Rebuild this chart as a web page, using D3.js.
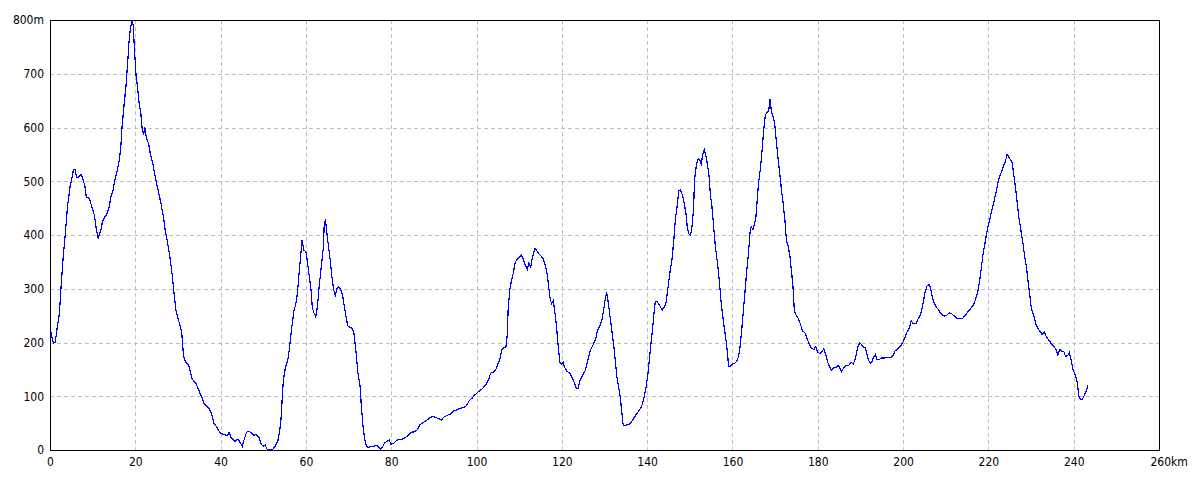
<!DOCTYPE html>
<html>
<head>
<meta charset="utf-8">
<script src="https://cdn.jsdelivr.net/npm/d3@7/dist/d3.min.js"></script>
<style>
  html, body { margin: 0; padding: 0; background: #fff; }
  svg { display: block; }
  .tick text { font-family: "Liberation Sans Narrow", "DejaVu Sans Condensed", "Liberation Sans", sans-serif; font-size: 12px; fill: #000; }
</style>
</head>
<body>
<svg id="chart" width="1200" height="480"></svg>
<script>
// Elevation profile: [distance km, elevation m]
const profile = [
  [0,226],[0.2,220],[0.8,198],[1.25,201],[1.6,223],[2.2,254],[2.6,304],[3.1,360],[3.6,403],[4.1,453],[4.7,490],[5.2,508],[5.5,522],[5.9,521],[6.25,507],[6.8,508],[7.3,513],[7.8,502],[8.2,490],[8.5,471],[9.2,468],[9.8,453],[10.4,437],[10.9,409],[11.3,394],[12,412],[12.3,425],[12.9,434],[13.4,440],[13.8,450],[14.3,471],[14.8,484],[15.2,502],[15.8,521],[16.25,540],[16.6,564],[16.9,602],[17.4,645],[17.8,676],[18.2,719],[18.5,757],[18.8,781],[19.2,799],[19.5,791],[19.8,744],[20.2,695],[20.5,676],[20.9,645],[21.3,626],[21.6,598],[21.95,586],[22.2,601],[22.6,580],[23.1,571],[23.5,552],[24.1,533],[24.5,515],[25,496],[25.5,478],[26,459],[26.6,434],[27,409],[27.6,384],[28.1,360],[28.6,329],[29.1,291],[29.5,260],[30.1,242],[30.6,229],[30.9,217],[31.3,174],[31.8,164],[32.5,158],[32.8,149],[33.3,133],[33.75,127],[34.2,124],[34.7,115],[35.2,105],[35.6,99],[36.1,87],[36.7,81],[37.2,78],[37.7,71],[38.1,62],[38.4,50],[39.1,43],[39.5,37],[40,31],[40.6,29],[41.1,28],[41.6,27],[42,33],[42.5,22],[43,19],[43.4,16],[43.9,20],[44.4,17],[44.7,12],[45.1,7],[45.5,19],[46.1,33],[46.5,35],[47,33],[47.4,31],[47.8,27],[48.2,29],[48.7,26],[49.1,22],[49.5,11],[50,7],[50.5,9],[50.8,2],[51.4,0],[52,0],[52.3,2],[52.8,7],[53.4,16],[53.75,31],
  [54.1,50],[54.7,130],[55.1,149],[55.9,174],[56.25,198],[56.7,229],[57.2,260],[57.6,270],[58,291],[58.4,329],[58.75,360],[59.1,391],[59.5,372],[60,369],[60.4,347],[60.8,322],[61.2,298],[61.5,264],[61.9,255],[62.3,248],[62.7,267],[63.1,304],[63.6,341],[64.1,378],[64.3,422],[64.6,427],[65,397],[65.6,360],[66.1,322],[66.5,298],[66.9,288],[67.3,301],[67.7,304],[68.2,298],[68.6,288],[69,267],[69.4,248],[69.8,231],[70.4,228],[70.9,226],[71.25,217],[71.7,186],[72.2,143],[72.7,118],[73,81],[73.4,43],[73.8,19],[74.2,6],[74.7,5],[75.4,7],[75.9,7],[76.4,9],[77,6],[77.5,2],[78,6],[78.5,14],[79.1,16],[79.5,19],[79.9,11],[80.5,12],[81,16],[81.5,19],[82.4,19],[83,22],[83.6,25],[84.2,29],[84.8,33],[85.5,34],[86.2,38],[86.7,47],[87.3,50],[87.9,53],[88.4,56],[88.9,59],[89.5,62],[90,62],[90.6,60],[91.2,58],[91.8,56],[92.3,61],[93,64],[93.6,66],[94.1,68],[94.7,73],[95.3,74],[95.9,77],[96.5,78],[97.1,79],[97.7,83],[98.3,92],[98.9,96],[99.5,102],[100,105],[100.5,109],[101.2,113],[101.7,117],[102.3,123],[102.9,133],[103.3,143],[103.9,145],[104.5,149],[104.9,158],[105.5,169],[105.9,187],[106.4,190],[106.9,192],[107.2,214],[107.4,260],[107.8,298],[108.2,316],[108.6,329],[109.1,350],[109.5,355],[110,358],[110.5,362],[110.9,356],[111.4,344],[111.9,336],[112.3,348],[112.7,340],[113.1,358],[113.7,375],[114.1,371],[114.6,365],[115.1,361],[115.6,356],[116.1,344],[116.4,335],[116.7,319],[117,298],[117.3,279],[117.6,272],[118,278],[118.4,254],[118.75,229],[119.1,198],[119.5,164],[119.9,160],
  [120.3,164],[120.6,155],[121.2,146],[121.8,144],[122.4,135],[123,124],[123.35,115],[123.8,115],[124.3,130],[124.9,140],[125.5,148],[126.1,167],[126.7,186],[127.3,195],[127.9,206],[128.4,223],[129,233],[129.4,242],[129.8,260],[130.2,282],[130.5,293],[130.8,279],[131.3,248],[131.8,217],[132.2,192],[132.6,161],[132.9,136],[133.3,118],[133.7,99],[134,74],[134.35,48],[134.7,45],[135.3,47],[135.8,48],[136.4,53],[136.85,59],[137.4,66],[137.9,71],[138.5,78],[138.95,87],[139.3,99],[139.7,115],[140.1,136],[140.5,167],[140.9,198],[141.3,229],[141.6,254],[141.9,276],
  [142.3,276],[143,268],[143.5,260],[144,266],[144.4,273],[144.8,297],[145.3,328],[145.8,353],[146.25,390],[146.6,428],[147,452],[147.4,482],[147.8,484],[148.3,474],[148.7,458],[149.1,440],[149.4,415],[149.8,402],[150.2,400],[150.6,421],[150.9,452],[151.1,502],[151.6,533],[151.95,542],[152.3,540],[152.7,532],[153,550],[153.4,559],[153.75,548],[154.1,533],[154.5,511],[154.8,477],[155.2,452],[155.6,415],[156,378],[156.5,347],[156.9,316],[157.3,279],[157.65,254],[158,232],[158.4,210],[158.75,186],[159.1,156],[159.5,156],[160,160],[160.5,161],[160.9,164],[161.4,173],[161.7,186],[162.1,217],[162.5,254],[162.9,291],[163.3,329],[163.75,366],[164.1,403],[164.4,416],[164.8,410],[165.2,421],[165.5,434],[165.8,465],[166.1,495],[166.6,527],[166.95,558],[167.35,598],[167.7,623],[168.1,628],[168.5,632],[168.8,652],[169.1,632],[169.5,620],[169.9,607],[170.3,573],[170.7,542],[171.1,514],[171.5,483],[171.9,458],[172.3,427],[172.65,390],[173.1,378],[173.5,359],[173.9,328],[174.2,303],[174.5,260],[174.8,252],[175.4,245],[175.9,235],[176.4,222],[177,218],[177.3,211],[177.8,201],[178.3,192],[178.7,189],[179.1,187],[179.5,192],[180,182],[180.5,179],[180.9,182],[181.4,188],[181.9,176],[182.3,164],[182.8,154],[183.2,149],[183.75,153],[184.4,154],[184.8,157],[185.2,152],[185.6,146],[186,152],[186.4,156],[186.9,157],[187.3,158],[187.8,163],[188.3,160],[188.7,167],[189.1,181],[189.5,194],[189.8,199],[190.2,197],[190.6,192],[191.1,190],[191.5,180],[191.9,167],[192.3,161],[192.7,164],[193.1,173],[193.5,178],[193.9,168],[194.4,168],
  [194.9,171],[195.5,171],[196.1,172],[197.1,172],[197.7,176],[198.1,184],[198.8,189],[199.45,194],[200,201],[200.5,210],[200.9,219],[201.4,226],[201.9,240],[202.3,236],[203,235],[203.4,242],[203.9,249],[204.4,261],[204.8,277],[205.1,292],[205.6,305],[206.1,308],[206.4,302],[206.8,286],[207.25,275],[207.8,266],[208.3,261],[208.7,255],[209.2,251],[209.75,249],[210.3,251],[210.8,255],[211.3,254],[211.9,250],[212.3,247],[212.8,244],[213.4,244],[214,245],[214.5,250],[215,255],[215.4,259],[215.9,264],[216.4,269],[216.85,277],[217.2,286],[217.6,298],[218,317],[218.4,342],[218.8,367],[219.2,385],[219.6,404],[220,419],[220.4,432],[220.75,444],[221.1,456],[221.5,469],[221.9,484],[222.4,503],[222.8,512],[223.2,520],[223.55,529],[223.9,535],[224.2,543],[224.4,550],[224.8,545],[225.2,540],[225.6,534],[226,509],[226.4,485],[226.75,460],[227.1,435],[227.6,410],[228.1,385],[228.5,360],[228.9,342],[229.25,317],[229.65,292],[229.95,270],[230.3,258],[230.7,249],[231.2,233],[231.7,225],[232.1,221],[232.6,215],[233.1,220],[233.5,212],[234,206],[234.5,201],[234.9,196],[235.4,193],[235.9,186],[236.3,176],[236.7,187],[237.2,184],[237.65,184],[238.1,174],[238.6,176],[239,181],[239.4,168],[239.8,150],[240.2,143],[240.6,134],[240.9,122],[241.2,100],[241.6,94],[242,94],[242.4,100],[242.9,109],[243.3,120]
];

const xTicks = [0, 20, 40, 60, 80, 100, 120, 140, 160, 180, 200, 220, 240, 260];
const yTicks = [0, 100, 200, 300, 400, 500, 600, 700, 800];
const xMax = 260, yMax = 800;
const xUnit = "km", yUnit = "m";

const svg = d3.select("#chart");
const plotL = 50, plotR = 1159, plotT = 20, plotB = 450;

const x = d3.scaleLinear().domain([0, xMax]).range([plotL, plotR]);
const y = d3.scaleLinear().domain([0, yMax]).range([plotB, plotT]);
const px = v => Math.round(v) + 0.5;

// Grid
const grid = svg.append("g").attr("stroke", "#c0c0c0").attr("stroke-dasharray", "4,3").attr("shape-rendering", "crispEdges");
grid.selectAll("line.v").data(xTicks.filter(t => t > 0 && t < xMax)).join("line")
  .attr("class", "v")
  .attr("x1", d => px(x(d))).attr("x2", d => px(x(d)))
  .attr("y1", plotT).attr("y2", plotB);
grid.selectAll("line.h").data(yTicks.filter(t => t > 0 && t < yMax)).join("line")
  .attr("class", "h")
  .attr("x1", plotL).attr("x2", plotR)
  .attr("y1", d => px(y(d))).attr("y2", d => px(y(d)));

// Line
const line = d3.line().x(d => x(d[0])).y(d => y(d[1]));
svg.append("path").datum(profile)
  .attr("d", line)
  .attr("fill", "none")
  .attr("stroke", "#0000ff")
  .attr("stroke-width", 1.2)
  .attr("shape-rendering", "crispEdges");

// Frame
svg.append("rect")
  .attr("x", plotL + 0.5).attr("y", plotT + 0.5)
  .attr("width", plotR - plotL).attr("height", plotB - plotT)
  .attr("fill", "none").attr("stroke", "#000").attr("stroke-width", 1)
  .attr("shape-rendering", "crispEdges");

// Axes (labels only)
const xAxis = svg.append("g").attr("transform", `translate(0,${plotB})`)
  .call(d3.axisBottom(x).tickValues(xTicks).tickSize(0).tickPadding(7)
    .tickFormat(d => d === xMax ? d + xUnit : d));
xAxis.select(".domain").remove();
xAxis.selectAll(".tick").filter(d => d === xMax).select("text")
  .attr("text-anchor", "start").attr("x", -9);

const yAxis = svg.append("g").attr("transform", `translate(${plotL},0)`)
  .call(d3.axisLeft(y).tickValues(yTicks).tickSize(0).tickPadding(6)
    .tickFormat(d => d === yMax ? d + yUnit : d));
yAxis.select(".domain").remove();
</script>
</body>
</html>
